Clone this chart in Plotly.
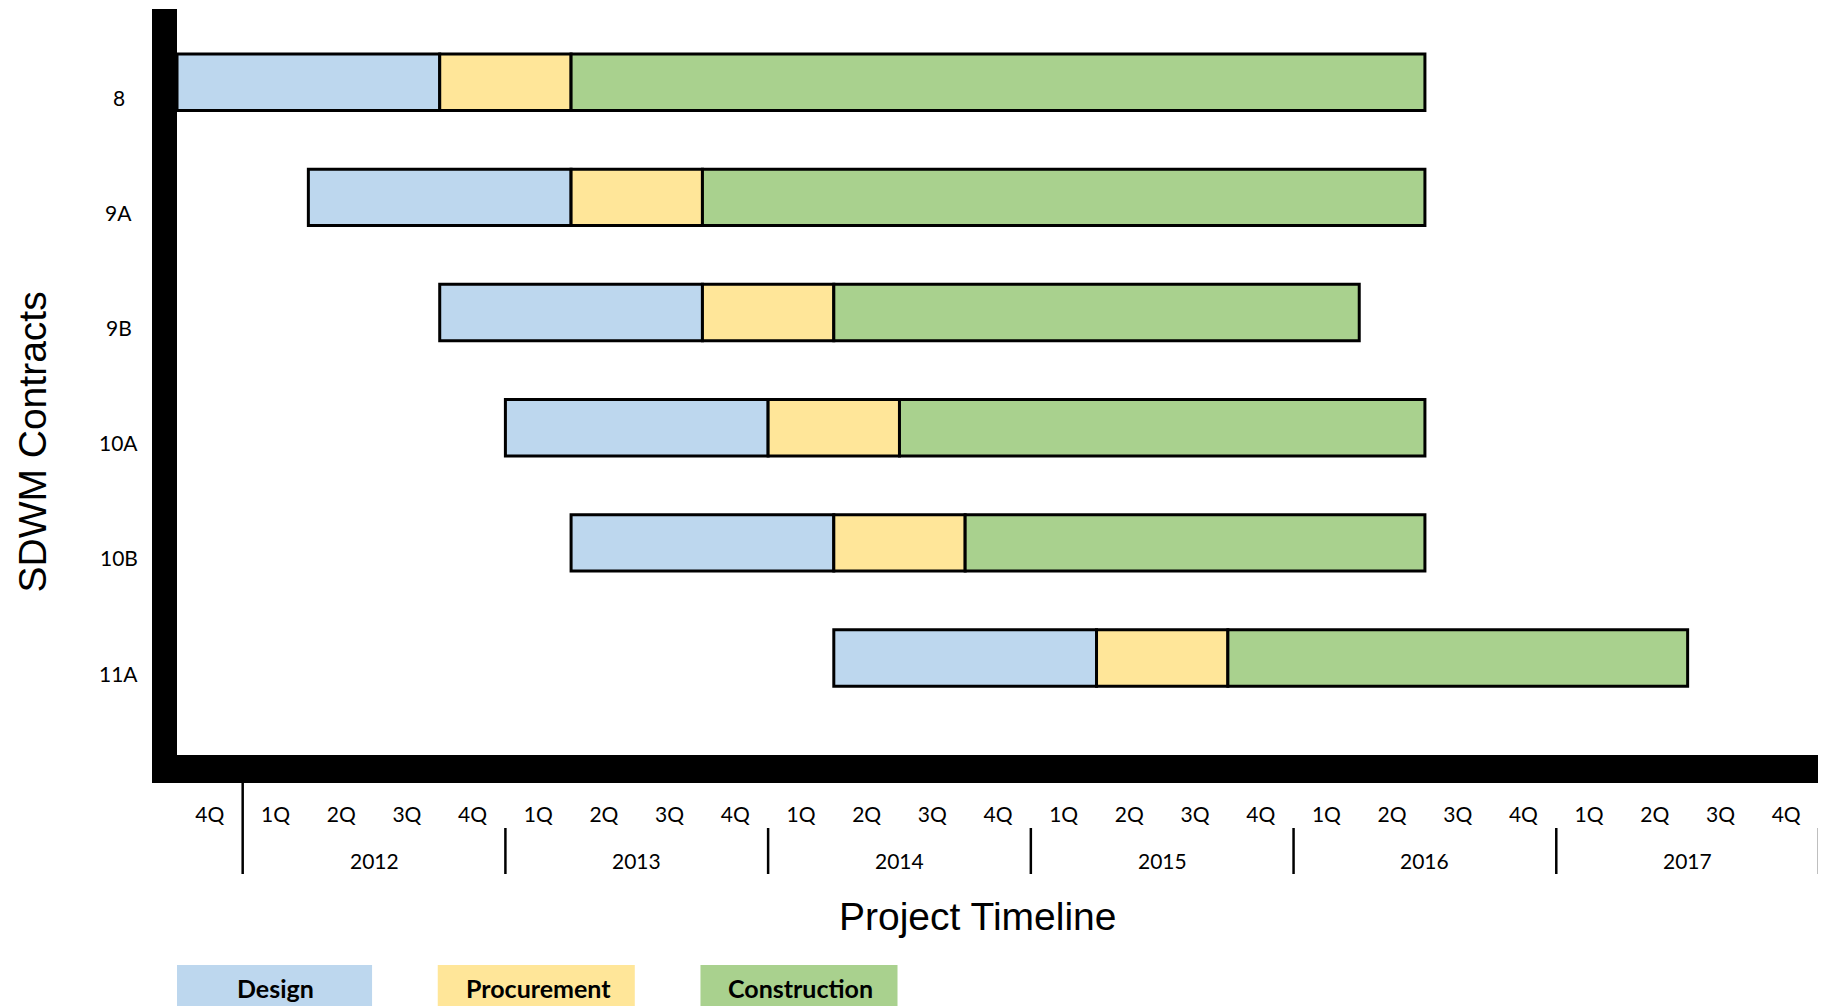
import plotly.graph_objects as go

# ---- data (x in quarter index: 0 = 4Q 2011, 1 = 1Q 2012, ...) ----
contracts = ["8", "9A", "9B", "10A", "10B", "11A"]
design_start = [0, 2, 4, 5, 6, 10]
design_dur = [4, 4, 4, 4, 4, 4]
procurement_dur = [2, 2, 2, 2, 2, 2]
construction_dur = [13, 11, 8, 8, 7, 7]

phase_names = ["Design", "Procurement", "Construction"]
phase_colors = ["#BDD7EE", "#FFE699", "#A9D18E"]

quarter_labels = ["4Q",
                  "1Q", "2Q", "3Q", "4Q",
                  "1Q", "2Q", "3Q", "4Q",
                  "1Q", "2Q", "3Q", "4Q",
                  "1Q", "2Q", "3Q", "4Q",
                  "1Q", "2Q", "3Q", "4Q",
                  "1Q", "2Q", "3Q", "4Q"]
years = ["2012", "2013", "2014", "2015", "2016", "2017"]
year_start_q = [1, 5, 9, 13, 17, 21]   # quarter index where each year begins

# ---- layout geometry (page pixels; page body has an 8px margin) ----
OFF = 8
PAGE_W, PAGE_H = 1826, 1006
PL, PR, PT, PB = 176.5, 1819, 9, 755      # plot area edges on the page
W, H = PAGE_W - OFF, PAGE_H - OFF
L, R, T, B = PL - OFF, PAGE_W - PR, PT - OFF, PAGE_H - PB
plot_h = PB - PT
plot_w = PR - PL


def py(p):
    """page pixel y (from top) -> paper y"""
    return (PB - p) / plot_h


def px(p):
    """page pixel x -> paper x"""
    return (p - PL) / plot_w


proc_start = [s + d for s, d in zip(design_start, design_dur)]
const_start = [s + d for s, d in zip(proc_start, procurement_dur)]

fig = go.Figure()
for name, color, base, dur in zip(phase_names, phase_colors,
                                   [design_start, proc_start, const_start],
                                   [design_dur, procurement_dur, construction_dur]):
    fig.add_trace(go.Bar(
        y=contracts, x=dur, base=base, orientation="h", name=name,
        marker=dict(color=color, line=dict(color="black", width=3)),
        width=0.49, showlegend=False, hoverinfo="skip",
    ))

ann = []
shapes = []
label_font = dict(family="Lato, Open Sans, sans-serif", size=21, color="#000000")

# row labels
for i, c in enumerate(contracts):
    ann.append(dict(x=px(118), xref="paper", y=i, yref="y", text=c,
                    showarrow=False, xanchor="center", yanchor="middle",
                    yshift=-15, font=label_font))

# year labels and separators
for yr, q0 in zip(years, year_start_q):
    ann.append(dict(x=q0 + 2, xref="x", y=py(860), yref="paper", text=yr,
                    showarrow=False, xanchor="center", yanchor="middle",
                    font=label_font))
sep_x = year_start_q + [year_start_q[-1] + 4]
for i, q in enumerate(sep_x):
    y0 = py(783) if i == 0 else py(828)
    shapes.append(dict(type="line", xref="x", yref="paper", x0=q, x1=q,
                       y0=y0, y1=py(874), line=dict(color="black", width=2.5)))

# axis titles
title_font = dict(family="Liberation Sans, Arial, sans-serif", size=39,
                  color="#000000")
ann.append(dict(x=px(977), xref="paper", y=py(916), yref="paper",
                text="Project Timeline", showarrow=False, xanchor="center",
                yanchor="middle", font=title_font))
ann.append(dict(x=px(31), xref="paper", y=py(442), yref="paper",
                text="SDWM Contracts", showarrow=False, textangle=-90,
                xanchor="center", yanchor="middle", font=title_font))

# legend boxes
for i, (name, color) in enumerate(zip(phase_names, phase_colors)):
    x0 = i * 4
    shapes.append(dict(type="rect", xref="x", yref="paper", x0=x0 - 0.03,
                       x1=x0 + 3 - 0.03,
                       y0=py(965), y1=py(1012), fillcolor=color,
                       line=dict(width=0), layer="below"))
    ann.append(dict(x=x0 + 1.5, xref="x", y=py(988), yref="paper",
                    text="<b>" + name + "</b>", showarrow=False,
                    xanchor="center", yanchor="middle",
                    font=dict(family="Lato, Open Sans, sans-serif", size=25,
                              color="#000000")))

fig.update_layout(
    width=W, height=H, autosize=False,
    margin=dict(l=L, r=R, t=T, b=B, pad=0),
    paper_bgcolor="white", plot_bgcolor="white",
    barmode="overlay",
    annotations=ann, shapes=shapes,
    xaxis=dict(range=[0, 25], tickmode="array",
               tickvals=[i + 0.5 for i in range(len(quarter_labels))],
               ticktext=quarter_labels, ticks="", showgrid=False,
               zeroline=False, showline=True, linecolor="black",
               linewidth=28, tickfont=dict(family="Lato, Open Sans, sans-serif",
                                           size=21, color="#000000"),
               ticklabelstandoff=14, fixedrange=True),
    yaxis=dict(type="category", range=[5.842, -0.636], showticklabels=False,
               ticks="", showgrid=False, zeroline=False, showline=True,
               linecolor="black", linewidth=25, fixedrange=True),
)

fig.write_html("out.html")
